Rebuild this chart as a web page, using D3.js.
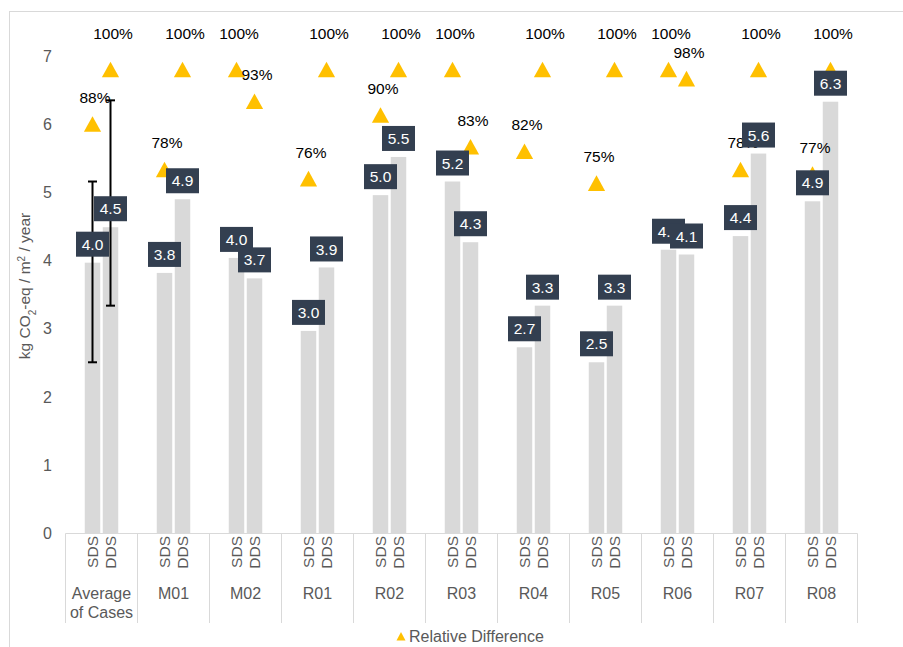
<!DOCTYPE html>
<html>
<head>
<meta charset="utf-8">
<script src="https://cdn.jsdelivr.net/npm/d3@7"></script>
<style>
  body { margin: 0; background: #fff; }
  svg { font-family: "Liberation Sans", Arial, sans-serif; display: block; }
</style>
</head>
<body>
<svg id="chart" width="903" height="647"></svg>
<script>
// Emission per case: SDS vs DDS, plus relative difference (triangles)
const categories = ["Average of Cases", "M01", "M02", "R01", "R02", "R03", "R04", "R05", "R06", "R07", "R08"];
const series = ["SDS", "DDS"];
const sdsValues = [3.97, 3.82, 4.04, 2.97, 4.96, 5.16, 2.73, 2.51, 4.16, 4.36, 4.87];
const ddsValues = [4.49, 4.90, 3.74, 3.90, 5.52, 4.27, 3.34, 3.34, 4.09, 5.57, 6.33];
const sdsRelative = [0.88, 0.78, 1.00, 0.76, 0.90, 1.00, 0.82, 0.75, 1.00, 0.78, 0.77];
const ddsRelative = [1.00, 1.00, 0.93, 1.00, 1.00, 0.83, 1.00, 1.00, 0.98, 1.00, 1.00];
// min / max whiskers on the average bars
const errLow = [2.51, 3.34];
const errHigh = [5.16, 6.35];
const yTicks = [0, 1, 2, 3, 4, 5, 6, 7];

const svg = d3.select("#chart");
const grey = "#595959";
const lineGrey = "#d9d9d9";

// chart border
svg.append("rect")
    .attr("x", 9.5).attr("y", 11.5)
    .attr("width", 900).attr("height", 650)
    .attr("fill", "none").attr("stroke", lineGrey);

const x0 = d3.scaleBand().domain(categories).range([65.5, 857.5]);
const x1 = d3.scaleBand().domain(series).range([0, x0.bandwidth()])
    .paddingInner(0.14).paddingOuter(1.07);
const y = d3.scaleLinear().domain([0, 7]).range([533.5, 56]);
const yRel = d3.scaleLinear().domain([0, 1]).range([524, 69.5]);

const rows = categories.map((c, i) => ({
    cat: c,
    vals: [
        { s: "SDS", v: sdsValues[i], rel: sdsRelative[i] },
        { s: "DDS", v: ddsValues[i], rel: ddsRelative[i] }
    ]
}));
const cx = (c, s) => x0(c) + x1(s) + x1.bandwidth() / 2;

// y axis labels
const yAxis = svg.append("g")
    .attr("transform", "translate(56,0)")
    .call(d3.axisLeft(y).tickValues(yTicks).tickFormat(d3.format("d")).tickSize(0).tickPadding(4));
yAxis.select(".domain").remove();
yAxis.selectAll("text").attr("fill", grey).style("font-size", "16px");

svg.append("text")
    .attr("transform", "translate(30,286) rotate(-90)")
    .attr("text-anchor", "middle")
    .attr("fill", grey)
    .style("font-size", "15.5px")
    .html('kg CO<tspan baseline-shift="sub" font-size="10px">2</tspan>-eq / m<tspan baseline-shift="super" font-size="10px">2</tspan> / year');

// category axis lines
svg.append("line")
    .attr("x1", 65.5).attr("x2", 857.5).attr("y1", 533.5).attr("y2", 533.5)
    .attr("stroke", lineGrey);
svg.append("g").selectAll("line")
    .data(categories.concat(["end"]))
    .join("line")
    .attr("x1", (d, i) => i < categories.length ? x0(d) : x0.range()[1])
    .attr("x2", (d, i) => i < categories.length ? x0(d) : x0.range()[1])
    .attr("y1", 533.5).attr("y2", 623)
    .attr("stroke", lineGrey);

// bars
const groups = svg.append("g").selectAll("g")
    .data(rows)
    .join("g")
    .attr("transform", d => `translate(${x0(d.cat)},0)`);

groups.selectAll("rect")
    .data(d => d.vals)
    .join("rect")
    .attr("x", d => x1(d.s))
    .attr("width", x1.bandwidth())
    .attr("y", d => y(d.v))
    .attr("height", d => y(0) - y(d.v))
    .attr("fill", "#d9d9d9");

// SDS / DDS labels
groups.selectAll(".ser")
    .data(d => d.vals)
    .join("text")
    .attr("class", "ser")
    .attr("transform", d => `translate(${x1(d.s) + x1.bandwidth() / 2 + 5.5},536) rotate(-90)`)
    .attr("text-anchor", "end")
    .attr("fill", grey)
    .style("font-size", "15.5px")
    .text(d => d.s);

// category labels
svg.append("g").selectAll("text")
    .data(categories)
    .join("text")
    .attr("x", d => x0(d) + x0.bandwidth() / 2)
    .attr("y", 598.5)
    .attr("text-anchor", "middle")
    .attr("fill", grey)
    .style("font-size", "16px")
    .each(function (d) {
        const words = d === "Average of Cases" ? ["Average", "of Cases"] : [d];
        d3.select(this).selectAll("tspan")
            .data(words)
            .join("tspan")
            .attr("x", x0(d) + x0.bandwidth() / 2)
            .attr("dy", (w, i) => i === 0 ? 0 : 19.5)
            .text(w => w);
    });

// error bars on average
const errG = svg.append("g").attr("stroke", "#000").attr("stroke-width", 2);
series.forEach((s, i) => {
    const xx = cx(categories[0], s);
    errG.append("line").attr("x1", xx).attr("x2", xx)
        .attr("y1", y(errLow[i])).attr("y2", y(errHigh[i]));
    [errLow[i], errHigh[i]].forEach(v => {
        errG.append("line").attr("x1", xx - 4.5).attr("x2", xx + 4.5)
            .attr("y1", y(v)).attr("y2", y(v));
    });
});

// relative difference triangles
const tri = "M0,-7.8L8.6,7.8L-8.6,7.8Z";
const relPts = rows.flatMap(r => r.vals.map(v => ({ cat: r.cat, s: v.s, rel: v.rel })));
svg.append("g").selectAll("path")
    .data(relPts)
    .join("path")
    .attr("d", tri)
    .attr("transform", d => `translate(${cx(d.cat, d.s)},${yRel(d.rel)})`)
    .attr("fill", "#ffc000");

svg.append("g").selectAll("text")
    .data(relPts)
    .join("text")
    .attr("x", d => cx(d.cat, d.s) + 2.5)
    .attr("y", d => yRel(d.rel) - (d.rel >= 1 ? 35.5 : 26.5))
    .attr("dy", "0.35em")
    .attr("text-anchor", "middle")
    .attr("fill", "#000")
    .style("font-size", "15.5px")
    .text(d => d3.format(".0%")(d.rel));

// value label boxes
const fmt = d3.format(".1f");
const labels = svg.append("g").selectAll("g")
    .data(rows.flatMap(r => r.vals.map(v => ({ cat: r.cat, s: v.s, v: v.v }))))
    .join("g")
    .attr("transform", d => `translate(${cx(d.cat, d.s)},${y(d.v) - 6 - 12.5})`);
labels.append("rect")
    .attr("x", -16.5).attr("y", -12.5)
    .attr("width", 33).attr("height", 25)
    .attr("fill", "#333f50");
labels.append("text")
    .attr("text-anchor", "middle")
    .attr("dy", "0.36em")
    .attr("fill", "#fff")
    .style("font-size", "15.5px")
    .text(d => fmt(d.v));

// legend
const leg = svg.append("g").attr("transform", "translate(401,636.5)");
leg.append("path").attr("d", "M0,-4.5L4.5,4L-4.5,4Z").attr("fill", "#ffc000");
leg.append("text")
    .attr("x", 8).attr("dy", "0.35em")
    .attr("fill", grey)
    .style("font-size", "16px")
    .text("Relative Difference");
</script>
</body>
</html>
